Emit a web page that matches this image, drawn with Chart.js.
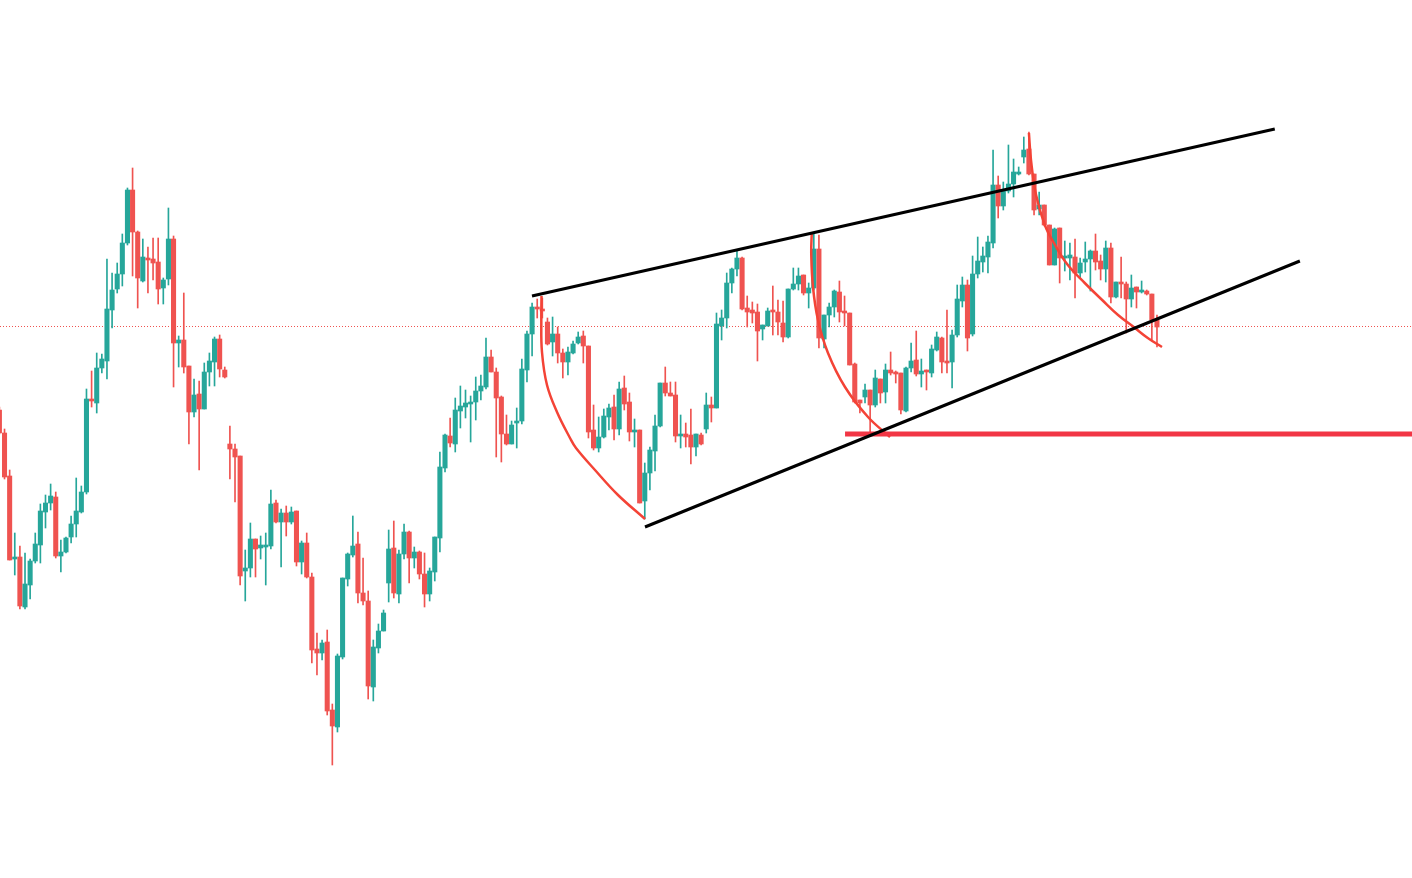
<!DOCTYPE html>
<html>
<head>
<meta charset="utf-8">
<script src="https://cdn.jsdelivr.net/npm/chart.js@4.4.1/dist/chart.umd.min.js"></script>
<style>
html,body{margin:0;padding:0;background:#ffffff;overflow:hidden;}
#wrap{width:1412px;height:878px;}
</style>
</head>
<body>
<div id="wrap"><canvas id="c" width="1412" height="878"></canvas></div>
<script>
// ---- candle data (price units) ----
const opens = [468,445,402,319,321,271,293,317,333,366,375,381,322,326,341,354,366,386,479,475,510,517,568,589,604,635,688,646,597,620,619,616,590,599,639,535,538,512,466,484,469,506,516,539,508,434,429,422,307,310,339,330,331,332,375,356,365,356,367,316,335,301,229,225,236,168,151,221,299,323,334,285,277,191,230,247,295,330,284,324,346,320,326,304,284,306,340,410,442,434,467,471,474,476,487,491,521,506,481,444,434,455,457,508,544,571,569,556,536,544,525,516,525,535,542,532,448,430,441,461,471,449,490,476,446,448,377,405,427,452,495,485,483,442,444,443,431,443,449,473,470,552,560,595,609,620,570,568,566,549,552,568,566,555,541,589,594,603,585,590,629,539,563,571,586,567,565,514,478,481,488,473,499,486,508,506,505,467,510,518,504,508,505,528,540,517,516,543,577,593,544,604,616,621,635,693,672,687,694,704,721,729,704,669,673,653,613,650,620,620,621,605,616,619,627,617,609,630,581,596,594,579,591,586,587,584,558];
const highs = [471,449,408,345,332,325,319,345,374,383,394,386,338,341,362,400,392,489,507,525,524,619,605,615,644,690,710,647,639,631,640,640,600,670,642,542,585,512,499,497,515,525,541,543,511,452,434,422,328,355,339,342,345,388,378,369,372,371,367,337,345,305,245,238,248,174,224,300,325,362,346,320,287,238,254,268,348,357,328,354,347,331,327,325,310,341,426,444,460,480,492,488,482,501,503,540,528,510,482,463,457,470,519,547,575,579,580,560,561,551,529,531,537,546,547,532,473,461,469,474,483,496,502,485,459,448,415,431,463,495,511,496,496,463,455,469,444,445,485,481,565,568,605,610,628,621,582,576,574,553,570,592,578,577,589,610,610,603,595,645,643,563,575,588,597,582,565,515,478,494,488,508,499,514,526,507,505,511,535,547,519,508,533,546,541,568,548,593,601,598,622,641,631,642,728,702,696,733,719,711,741,746,704,686,673,653,650,650,637,635,639,620,636,628,644,623,637,635,596,621,596,603,591,597,588,584,563];
const lows = [444,399,318,303,269,269,279,315,315,350,368,320,306,325,335,341,365,384,471,465,505,499,550,585,592,633,602,570,596,585,598,574,574,593,491,511,505,434,461,408,469,492,492,501,500,399,376,293,277,301,301,319,293,329,355,311,342,354,312,304,300,215,203,218,163,113,146,219,292,321,275,273,179,177,225,247,276,280,275,319,295,310,299,271,277,297,326,406,431,426,450,460,436,458,478,489,506,421,416,433,434,430,454,496,522,560,560,533,522,515,500,503,524,534,515,440,428,426,440,448,438,443,468,437,431,375,359,388,407,451,482,482,436,430,431,414,422,433,445,456,470,538,550,585,602,568,551,555,517,538,552,543,543,536,540,588,588,583,570,588,530,530,551,561,556,552,513,475,465,475,446,471,475,475,503,495,464,466,506,502,491,488,501,527,505,505,490,541,571,527,542,600,606,605,630,660,668,685,681,703,715,703,663,663,652,613,613,595,607,598,580,600,606,587,608,598,596,575,580,580,545,571,570,585,583,538,531];
const closes = [445,401,318,321,272,294,317,334,367,375,382,322,326,340,354,367,386,479,477,510,519,569,588,604,635,688,646,600,621,618,615,589,598,639,535,538,511,466,483,469,506,517,539,509,501,429,421,302,310,339,329,333,333,374,356,365,356,366,316,335,301,228,225,235,167,152,222,300,324,332,285,277,192,231,247,265,329,285,324,346,320,326,304,284,307,341,411,443,435,468,472,475,476,487,492,521,506,480,444,434,453,457,509,544,571,569,567,534,544,525,516,526,534,541,532,446,430,441,462,470,449,489,474,446,448,375,405,428,452,495,485,482,442,444,441,431,444,434,473,470,554,560,595,609,620,569,566,565,547,553,567,566,556,541,589,594,602,585,590,629,540,563,571,587,566,565,513,476,475,488,473,500,485,508,505,504,468,510,517,504,507,506,529,541,516,515,543,579,593,540,604,617,622,636,693,672,688,694,706,706,728,704,668,673,653,613,649,620,622,623,605,615,619,627,616,609,630,581,596,594,579,590,586,588,584,558,551];

// ---- drawn annotations (x in candle index units, y in price units) ----
const upperTrend = [[103.98,582],[249.0,749]];
const lowerTrend = [[126.04,351],[253.9,617]];
const supportLevel = [[165.1,444],[275.8,444]];
const arc1 = [[105.84,582],[105.80,560],[105.93,526],[106.91,493],[108.86,466],[111.40,440],[112.57,430],[116.28,408],[120.77,383],[126.05,359]];
const arc2 = [[158.60,645],[158.50,625],[158.84,591],[159.82,558],[161.77,525],[165.09,491],[169.58,461],[173.88,441]];
const arc3 = [[201.0,745],[201.4,718],[202.4,683],[204.1,653],[206.1,633],[208.6,613],[211.9,595],[215.3,578],[218.4,563],[221.7,550],[224.2,540],[226.98,531]];

const X_MIN = 0.117, X_MAX = 275.79;
const GREEN = '#26a69a', RED = '#ef5350';

const idx = opens.map((_, i) => i);
const colors = idx.map(i => closes[i] >= opens[i] ? GREEN : RED);
const pts = a => a.map(([x, y]) => ({x, y}));
const lastClose = closes[closes.length - 1];

const lineDs = (data, color, width, extra) => Object.assign({
  type: 'line', data: pts(data), borderColor: color, borderWidth: width,
  pointRadius: 0, fill: false, tension: 0, order: 0
}, extra || {});

new Chart(document.getElementById('c'), {
  type: 'bar',
  data: {
    datasets: [
      lineDs([[X_MIN, lastClose + 0.5], [X_MAX, lastClose + 0.5]], RED, 1, {borderDash: [1, 2], order: 10}),
      {
        type: 'bar', data: idx.map(i => ({x: i, y: [lows[i], highs[i]]})),
        backgroundColor: colors, barThickness: 1, grouped: false, order: 5
      },
      {
        type: 'bar', data: idx.map(i => ({x: i, y: [opens[i], closes[i]]})),
        backgroundColor: colors, barThickness: 4.4, grouped: false, minBarLength: 1, order: 4
      },
      lineDs(arc1, '#f44336', 2.5, {tension: 0.4, order: 1}),
      lineDs(arc2, '#f44336', 2.5, {tension: 0.4, order: 1}),
      lineDs(arc3, '#f44336', 2.5, {tension: 0.4, order: 1}),
      lineDs(upperTrend, '#000000', 3),
      lineDs(lowerTrend, '#000000', 3),
      lineDs(supportLevel, '#f23645', 5)
    ]
  },
  options: {
    responsive: false,
    devicePixelRatio: 1,
    animation: false,
    layout: {padding: 0},
    plugins: {legend: {display: false}, tooltip: {enabled: false}},
    scales: {
      x: {type: 'linear', min: X_MIN, max: X_MAX, display: false, offset: false},
      y: {type: 'linear', min: 0, max: 878, display: false}
    }
  }
});
</script>
</body>
</html>
